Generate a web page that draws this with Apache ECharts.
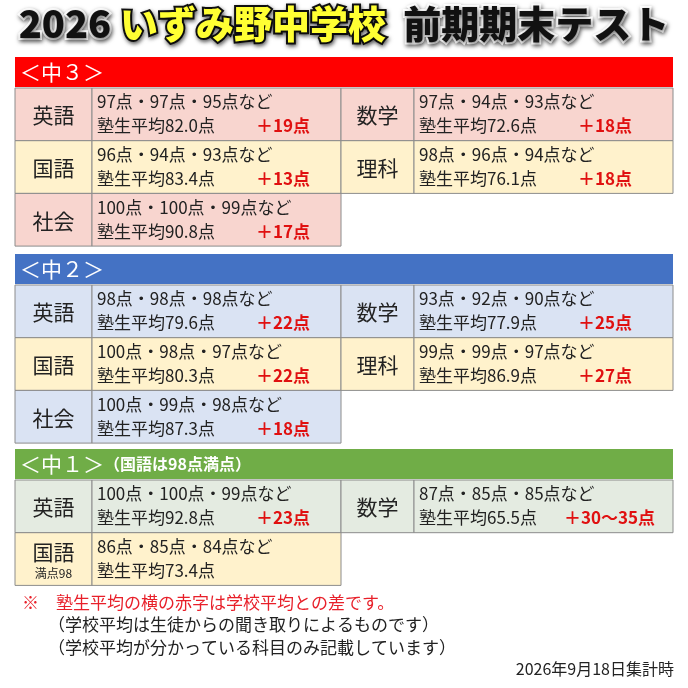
<!DOCTYPE html>
<html><head><meta charset="utf-8">
<script src="https://cdn.jsdelivr.net/npm/echarts@6/dist/echarts.min.js"></script>
<style>html,body{margin:0;background:#fff}#c{width:688px;height:688px}</style></head>
<body><div id="c"></div>
<script>
const FONT = '"Noto Sans CJK JP","Noto Sans",sans-serif';
const sections = ['＜中３＞', '＜中２＞', '＜中１＞'];
const sectionNotes = ['', '', '（国語は98点満点）'];
const sectionColors = ['#ff0000', '#4472c4', '#70ad47'];
const rowColorsA = ['#f8d5cf', '#dae3f3', '#e4ebe1'];
const rowColorB = '#fff2cc';
// each row: [subject, top scores, avg, diff]
const g3 = [
  [['英語', '97点・97点・95点など', '塾生平均82.0点', '＋19点'], ['数学', '97点・94点・93点など', '塾生平均72.6点', '＋18点']],
  [['国語', '96点・94点・93点など', '塾生平均83.4点', '＋13点'], ['理科', '98点・96点・94点など', '塾生平均76.1点', '＋18点']],
  [['社会', '100点・100点・99点など', '塾生平均90.8点', '＋17点'], null]
];
const g2 = [
  [['英語', '98点・98点・98点など', '塾生平均79.6点', '＋22点'], ['数学', '93点・92点・90点など', '塾生平均77.9点', '＋25点']],
  [['国語', '100点・98点・97点など', '塾生平均80.3点', '＋22点'], ['理科', '99点・99点・97点など', '塾生平均86.9点', '＋27点']],
  [['社会', '100点・99点・98点など', '塾生平均87.3点', '＋18点'], null]
];
const g1 = [
  [['英語', '100点・100点・99点など', '塾生平均92.8点', '＋23点'], ['数学', '87点・85点・85点など', '塾生平均65.5点', '＋30～35点']],
  [['国語', '86点・85点・84点など', '塾生平均73.4点', ''], null]
];
const groups = [g3, g2, g1];
const notes = ['※　塾生平均の横の赤字は学校平均との差です。', '（学校平均は生徒からの聞き取りによるものです）', '（学校平均が分かっている科目のみ記載しています）'];
const dateText = '2026年9月18日集計時';

const headerTops = [57, 254, 449];
const rowH = 52.7;
const cols = [15, 92, 341, 414, 673];
const els = [];
const sh = {textShadowColor:'rgba(0,0,0,0.55)',textShadowBlur:4,textShadowOffsetX:1,textShadowOffsetY:2};
els.push({type:'text', left:'center', top:3, style:{rich:{
  a:Object.assign({fontSize:38,fontWeight:900,fill:'#111',stroke:'#fff',lineWidth:4,fontFamily:FONT},sh),
  y:Object.assign({fontSize:38,fontWeight:900,fill:'#ffff33',stroke:'#111',lineWidth:4,fontFamily:FONT},sh)
}, text:'{a|2026 }{y|いずみ野中学校}{a|  前期期末テスト}'}});
groups.forEach((rows, gi) => {
  const top = headerTops[gi];
  els.push({type:'rect', shape:{x:15,y:top,width:658,height:30}, style:{fill:sectionColors[gi]}});
  els.push({type:'text', x:20, y:top+15, style:{text:'{h|'+sections[gi]+'}{n|'+sectionNotes[gi]+'}', verticalAlign:'middle', rich:{
    h:{fontSize:21,fill:'#fff',fontFamily:FONT}, n:{fontSize:16,fill:'#fff',fontWeight:'bold',fontFamily:FONT}}}});
  rows.forEach((row, ri) => {
    const y = top + 31 + ri*rowH;
    const fill = ri % 2 === 1 ? rowColorB : rowColorsA[gi];
    row.forEach((cell, ci) => {
      if (!cell) return;
      const x0 = cols[ci*2], x1 = cols[ci*2+1], x2 = cols[ci*2+2];
      els.push({type:'rect', shape:{x:x0,y:y,width:x1-x0,height:rowH}, style:{fill:fill,stroke:'#8c8c8c',lineWidth:1}});
      els.push({type:'rect', shape:{x:x1,y:y,width:x2-x1,height:rowH}, style:{fill:fill,stroke:'#8c8c8c',lineWidth:1}});
      const sub = (gi===2 && ri===1) ? '{s|国語}\n{m|満点98}' : '{s|'+cell[0]+'}';
      els.push({type:'text', x:(x0+x1)/2, y:y+rowH/2+1, style:{text:sub, align:'center', verticalAlign:'middle', rich:{
        s:{fontSize:21,fill:'#222',fontFamily:FONT,lineHeight:26}, m:{fontSize:12,fill:'#222',fontFamily:FONT,lineHeight:16}}}});
      els.push({type:'text', x:x1+5, y:y+14, style:{text:cell[1], fontSize:17, fill:'#222', fontFamily:FONT, verticalAlign:'middle'}});
      els.push({type:'text', x:x1+5, y:y+38, style:{text:cell[2], fontSize:17, fill:'#222', fontFamily:FONT, verticalAlign:'middle'}});
      if (cell[3]) els.push({type:'text', x:x1 + (cell[3].length > 4 ? 150 : 164), y:y+38, style:{text:cell[3], fontSize:17, fontWeight:'bold', fill:'#e01010', fontFamily:FONT, verticalAlign:'middle'}});
    });
  });
});
els.push({type:'text', x:22, y:603, style:{text:notes[0], fontSize:17, fill:'#e8202a', fontFamily:FONT, verticalAlign:'middle'}});
els.push({type:'text', x:48, y:625, style:{text:notes[1], fontSize:17, fill:'#222', fontFamily:FONT, verticalAlign:'middle'}});
els.push({type:'text', x:48, y:648, style:{text:notes[2], fontSize:17, fill:'#222', fontFamily:FONT, verticalAlign:'middle'}});
els.push({type:'text', x:674, y:669, style:{text:dateText, fontSize:16, fill:'#222', fontFamily:FONT, align:'right', verticalAlign:'middle'}});
const chart = echarts.init(document.getElementById('c'));
chart.setOption({backgroundColor:'#fff', graphic:{elements:els}});
</script></body></html>
